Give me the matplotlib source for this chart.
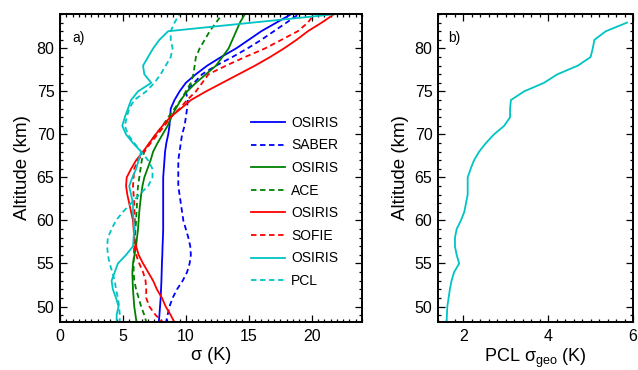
import numpy as np
import matplotlib
matplotlib.use("Agg")
from matplotlib import pyplot as plt
from matplotlib.ticker import MultipleLocator

plt.rcParams['font.family'] = ['Liberation Sans', 'DejaVu Sans']
plt.rcParams['font.size'] = 10

# altitude grid (km), 48..84
alt = np.arange(48, 85)

# panel a: sigma (K)
osiris_saber = [7.84, 7.9, 7.95, 8.0, 8.03, 8.06, 8.08, 8.1, 8.13, 8.15, 8.18, 8.2, 8.2, 8.2, 8.2, 8.2, 8.2,
                8.2, 8.25, 8.3, 8.35, 8.45, 8.6, 8.7, 8.75, 8.8, 9.1, 9.5, 10.0, 10.8, 11.7, 12.8, 14.0,
                15.0, 16.0, 17.2, 18.4]
saber = [8.4, 8.55, 8.7, 8.95, 9.3, 9.75, 10.1, 10.3, 10.4, 10.35, 10.2, 10.0, 9.8, 9.7, 9.6, 9.5, 9.4,
         9.4, 9.4, 9.4, 9.5, 9.6, 9.7, 9.9, 10.0, 10.1, 10.15, 10.0, 10.65, 11.3, 12.4, 13.7, 14.9,
         16.0, 17.0, 18.0, 19.0]
osiris_ace = [6.1, 6.0, 5.9, 5.85, 5.8, 5.77, 5.75, 5.8, 5.92, 6.05, 6.12, 6.2, 6.25, 6.3, 6.37, 6.45, 6.55,
              6.7, 6.95, 7.2, 7.4, 7.75, 8.15, 8.55, 8.85, 9.2, 9.6, 10.1, 10.8, 11.6, 12.4, 12.9, 13.4,
              13.7, 14.0, 14.3, 14.7]
ace = [6.9, 6.7, 6.45, 6.25, 6.05, 5.9, 5.85, 5.85, 5.87, 5.9, 5.95, 6.0, 6.05, 6.08, 6.12, 6.15, 6.2,
       6.3, 6.4, 6.5, 6.7, 7.1, 7.6, 8.15, 8.6, 9.1, 9.6, 10.0, 10.4, 10.6, 10.7, 10.8, 11.1,
       11.5, 11.9, 12.4, 12.9]
osiris_sofie = [9.15, 8.8, 8.4, 8.1, 7.7, 7.4, 7.0, 6.6, 6.25, 6.05, 5.9, 5.85, 5.8, 5.65, 5.5, 5.35, 5.25,
                5.3, 5.65, 6.05, 6.6, 7.1, 7.6, 8.15, 8.75, 9.6, 10.4, 11.6, 12.9, 14.2, 15.5, 16.7, 17.8,
                18.8, 19.7, 20.8, 21.8]
sofie = [8.3, 7.6, 7.1, 6.85, 6.85, 6.8, 6.6, 6.3, 6.05, 5.9, 5.9, 5.92, 5.95, 5.92, 5.9, 5.85, 5.8,
         5.85, 5.9, 6.2, 6.7, 7.2, 7.75, 8.3, 8.8, 9.5, 10.1, 10.8, 11.3, 11.8, 13.2, 14.7, 16.3,
         17.6, 18.9, 19.7, 20.2]
osiris_pcl = [4.5, 4.5, 4.65, 4.45, 4.2, 4.1, 4.35, 4.6, 5.25, 5.8, 5.85, 5.9, 5.85, 5.8, 5.8, 5.65, 5.5,
              5.75, 6.05, 6.25, 6.45, 5.8, 5.25, 4.95, 5.15, 5.4, 5.65, 6.2, 7.25, 6.7, 6.6, 7.0, 7.4,
              7.9, 8.6, 15.3, 22.0]
pcl = [4.75, 4.75, 4.7, 4.6, 4.45, 4.35, 4.15, 3.95, 3.8, 3.75, 3.8, 4.1, 4.45, 5.0, 5.65, 6.3, 7.0,
       7.35, 7.35, 7.0, 6.45, 5.9, 5.4, 5.15, 5.3, 5.5, 5.9, 6.85, 7.5, 8.0, 8.4, 8.8, 8.95,
       8.8, 8.8, 9.1, 9.5]

# panel b: PCL sigma_geo (K)
alt_geo = np.arange(48, 84)
pcl_geo = [1.6, 1.61, 1.62, 1.65, 1.68, 1.72, 1.78, 1.9, 1.84, 1.8, 1.8, 1.84, 1.94, 2.02, 2.06, 2.1, 2.1,
           2.1, 2.17, 2.25, 2.37, 2.53, 2.72, 2.96, 3.1, 3.1, 3.12, 3.43, 3.9, 4.22, 4.7, 5.0, 5.05,
           5.09, 5.36, 5.86]

blue = '#0000ff'
green = '#008000'
red = '#ff0000'
cyan = '#00c4c4'
dash = (0, (3, 2))

fig = plt.figure(figsize=(6.38, 3.70), dpi=100)
ax1 = fig.add_axes([60 / 638, 48 / 370, 302 / 638, 308 / 370])
ax2 = fig.add_axes([438 / 638, 48 / 370, 195 / 638, 308 / 370])

series = [
    (osiris_saber, blue, '-', 'OSIRIS'),
    (saber, blue, dash, 'SABER'),
    (osiris_ace, green, '-', 'OSIRIS'),
    (ace, green, dash, 'ACE'),
    (osiris_sofie, red, '-', 'OSIRIS'),
    (sofie, red, dash, 'SOFIE'),
    (osiris_pcl, cyan, '-', 'OSIRIS'),
    (pcl, cyan, dash, 'PCL'),
]
for vals, col, ls, lab in series:
    ax1.plot(vals, alt, color=col, linestyle=ls, lw=1.3, label=lab)

ax1.set_xlim(0, 24)
ax1.set_ylim(48.2, 84)
ax1.set_xlabel('σ (K)', fontsize=13, labelpad=2)
ax1.set_ylabel('Altitude (km)', fontsize=13.5, labelpad=4)
ax1.xaxis.set_major_locator(MultipleLocator(5))
ax1.xaxis.set_minor_locator(MultipleLocator(0.5))
ax1.text(0.04, 0.91, 'a)', transform=ax1.transAxes, fontsize=10)
ax1.legend(loc='upper left', bbox_to_anchor=(0.59, 0.71), frameon=False,
           handlelength=2.5, handletextpad=0.4, labelspacing=0.62, fontsize=10)

ax2.plot(pcl_geo, alt_geo, color=cyan, lw=1.3)
ax2.set_xlim(1.4, 6)
ax2.set_ylim(48.2, 84)
ax2.set_xlabel('PCL σ$_{\\mathregular{geo}}$ (K)', fontsize=13, labelpad=2)
ax2.set_ylabel('Altitude (km)', fontsize=13.5, labelpad=4)
ax2.xaxis.set_major_locator(MultipleLocator(2))
ax2.xaxis.set_minor_locator(MultipleLocator(0.2))
ax2.text(0.05, 0.91, 'b)', transform=ax2.transAxes, fontsize=10)

for ax in (ax1, ax2):
    ax.yaxis.set_major_locator(MultipleLocator(5))
    ax.yaxis.set_minor_locator(MultipleLocator(1))
    ax.tick_params(which='both', direction='in', top=True, right=True, width=0.9, labelsize=11.5)
    ax.tick_params(which='major', length=5, pad=4)
    ax.tick_params(axis='x', which='major', pad=5)
    ax.tick_params(which='minor', length=2.5)
    for s in ax.spines.values():
        s.set_linewidth(1.4)

fig.savefig('out.png', dpi=100)
